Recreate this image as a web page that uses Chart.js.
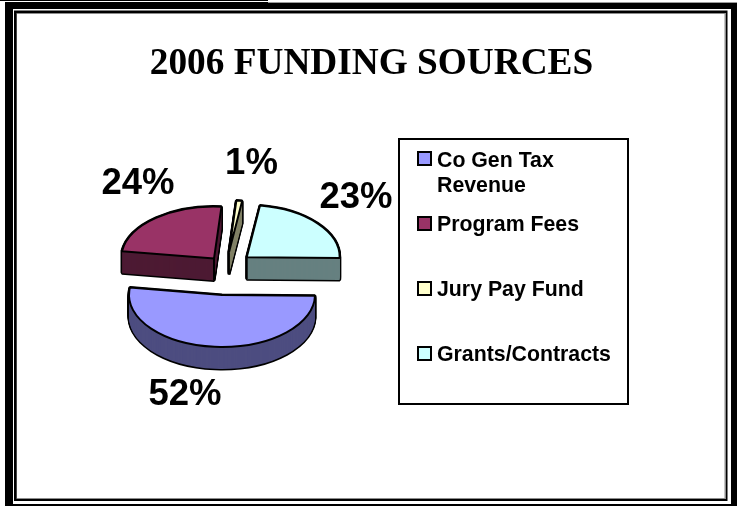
<!DOCTYPE html>
<html>
<head>
<meta charset="utf-8">
<style>
html,body{margin:0;padding:0;background:#fff;overflow:hidden}
#wrap{position:absolute;left:0;top:0;width:737px;height:506px}
</style>
<script src="https://cdn.jsdelivr.net/npm/chart.js@4"></script>
</head>
<body>
<div id="wrap"><canvas id="c" width="737" height="506"></canvas></div>
<script>
const categories = ["Co Gen Tax Revenue", "Program Fees", "Jury Pay Fund", "Grants/Contracts"];
const legendLines = [["Co Gen Tax", "Revenue"], ["Program Fees"], ["Jury Pay Fund"], ["Grants/Contracts"]];
const values = [52, 24, 1, 23];
const topColors = ["#9999ff", "#993366", "#ffffcc", "#ccffff"];
const sideColors = ["#4d4d80", "#4d1a33", "#808066", "#668080"];
const explodeDistances = [50, 19.2, 26, 27.2];
const titleText = "2006 FUNDING SOURCES";

const PIE_AREA = {left: 132, top: 173, right: 320, bottom: 361};
const PIVOT_Y = 267;
const SQUASH = 0.56, DEPTH = 22;
const LABEL_POS = [[185, 395], [138, 184], [251.5, 164], [356, 198]];
const LEGEND_BOX = {x: 399, y: 139, w: 229, h: 265};
const LEGEND_ROWS = [152, 217, 282, 347];
const LEGEND_BASELINES = [166.7, 231.3, 295.7, 360.7];

function squash(ctx, d) {
  ctx.translate(0, PIVOT_Y + d);
  ctx.scale(1, SQUASH);
  ctx.translate(0, -PIVOT_Y);
}
// keep the pen round even though the pie is squashed
function screenPen(ctx) {
  const orig = ctx.stroke;
  ctx.stroke = function () {
    ctx.save();
    ctx.setTransform(1, 0, 0, 1, 0, 0);
    orig.call(ctx);
    ctx.restore();
  };
}
function drawVariant(ctx, arc, d, over) {
  const saved = arc.options;
  arc.options = Object.assign({}, saved, over);
  ctx.save();
  squash(ctx, d);
  arc.draw(ctx);
  ctx.restore();
  arc.options = saved;
}

const pie3d = {
  id: "pie3d",
  afterLayout(chart) {
    const a = PIE_AREA;
    chart.chartArea = {left: a.left, top: a.top, right: a.right, bottom: a.bottom,
                       width: a.right - a.left, height: a.bottom - a.top};
  },
  afterDatasetsUpdate(chart) {
    // pull each slice out along its own middle angle
    chart.getDatasetMeta(0).data.forEach((arc, i) => {
      const mid = (arc.startAngle + arc.endAngle) / 2;
      arc.x += Math.cos(mid) * explodeDistances[i];
      arc.y += Math.sin(mid) * explodeDistances[i];
    });
  },
  beforeDraw(chart) {
    const ctx = chart.ctx;
    ctx.save();
    ctx.fillStyle = "#fff";
    ctx.fillRect(0, 0, 737, 506);
    ctx.fillStyle = "#000";
    ctx.fillRect(5, 2, 732, 7);
    ctx.fillRect(5, 2, 8, 504);
    ctx.fillRect(731, 2, 6, 504);
    ctx.fillRect(5, 504, 732, 2);
    ctx.fillRect(0, 0, 268, 1);
    ctx.fillStyle = "#999";
    ctx.fillRect(268, 2, 469, 1);
    ctx.fillStyle = "#000";
    ctx.fillRect(14, 10.5, 713.5, 490.5);
    ctx.fillStyle = "#8c8c8c";
    ctx.fillRect(16.5, 13, 709.5, 486);
    ctx.fillStyle = "#fff";
    ctx.fillRect(17, 14, 707.5, 484);
    const b = LEGEND_BOX;
    ctx.strokeStyle = "#000";
    ctx.lineWidth = 2;
    ctx.strokeRect(b.x, b.y, b.w, b.h);
    ctx.restore();
  },
  beforeDatasetDraw(chart) {
    const ctx = chart.ctx;
    const arcs = chart.getDatasetMeta(0).data;
    screenPen(ctx);
    arcs.forEach(arc => {
      for (let d = DEPTH; d >= 0; d--) {
        drawVariant(ctx, arc, d, {borderWidth: 3, borderColor: "#000", backgroundColor: "#000"});
      }
    });
    arcs.forEach((arc, i) => {
      for (let d = DEPTH; d >= 0; d--) {
        drawVariant(ctx, arc, d, {borderWidth: 0, backgroundColor: sideColors[i]});
      }
    });
    delete ctx.stroke;
    // vertical edge under each apex
    ctx.save();
    ctx.strokeStyle = "#000";
    ctx.lineWidth = 2;
    arcs.forEach(arc => {
      const y = PIVOT_Y + (arc.y - PIVOT_Y) * SQUASH;
      ctx.beginPath();
      ctx.moveTo(arc.x, y);
      ctx.lineTo(arc.x, y + DEPTH);
      ctx.stroke();
    });
    ctx.restore();
    ctx.save();
    squash(ctx, 0);
    screenPen(ctx);
  },
  afterDatasetDraw(chart) {
    const ctx = chart.ctx;
    delete ctx.stroke;
    ctx.restore();
  },
  afterDraw(chart) {
    const ctx = chart.ctx;
    ctx.save();
    ctx.fillStyle = "#000";
    ctx.textAlign = "center";
    ctx.textBaseline = "middle";
    ctx.font = "bold 36.5px 'Liberation Sans'";
    values.forEach((v, i) => ctx.fillText(v + "%", LABEL_POS[i][0], LABEL_POS[i][1]));
    ctx.textAlign = "left";
    ctx.textBaseline = "alphabetic";
    ctx.font = "bold 21.3px 'Liberation Sans'";
    LEGEND_ROWS.forEach((y, i) => {
      ctx.fillStyle = topColors[i];
      ctx.strokeStyle = "#000";
      ctx.lineWidth = 2;
      ctx.fillRect(418, y, 13, 13);
      ctx.strokeRect(418, y, 13, 13);
      ctx.fillStyle = "#000";
      legendLines[i].forEach((t, j) => ctx.fillText(t, 437, LEGEND_BASELINES[i] + j * 25));
    });
    ctx.restore();
  }
};

new Chart(document.getElementById("c"), {
  type: "pie",
  data: {
    labels: categories,
    datasets: [{
      data: values,
      backgroundColor: topColors,
      borderColor: "#000",
      borderWidth: 2,
      clip: false
    }]
  },
  options: {
    responsive: false,
    animation: false,
    rotation: 91,
    layout: {padding: {left: 6}},
    events: [],
    plugins: {
      legend: {display: false},
      tooltip: {enabled: false},
      title: {
        display: true,
        text: titleText,
        color: "#000",
        font: {family: "'Liberation Serif'", weight: "bold", size: 37.3},
        padding: {top: 41.5, bottom: 10}
      }
    }
  },
  plugins: [pie3d]
});
</script>
</body>
</html>
